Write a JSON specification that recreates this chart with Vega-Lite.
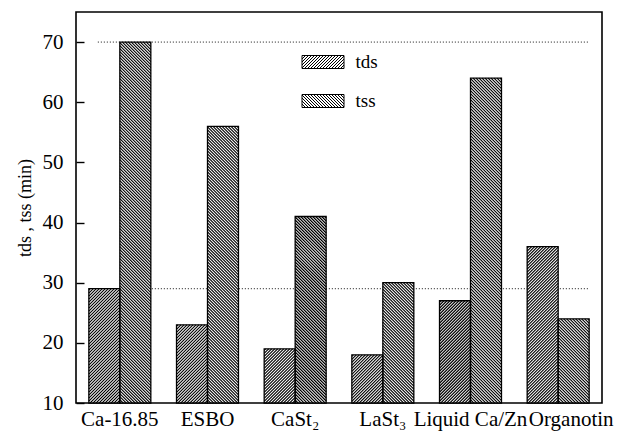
{
  "$schema": "https://vega.github.io/schema/vega-lite/v6.json",
  "width": 526,
  "height": 391,
  "autosize": "none",
  "padding": {"left": 76, "top": 12, "right": 16, "bottom": 32},
  "background": "white",
  "config": {
    "font": "Liberation Serif",
    "view": {"stroke": "black", "strokeWidth": 1.6},
    "axis": {"domain": false, "grid": false, "labelFont": "Liberation Serif", "labelFontSize": 21, "labelColor": "black", "titleFont": "Liberation Serif", "titleColor": "black", "titleFontWeight": "normal", "tickColor": "black"},
    "axisX": {"ticks": false, "labelPadding": 5, "labelAngle": 0},
    "axisY": {"ticks": true, "offset": -8, "tickSize": 8, "tickWidth": 1.4, "labelPadding": 13, "titleFontSize": 18, "titlePadding": 8},
    "legend": {"labelFont": "Liberation Serif"}
  },
  "datasets": {
    "bars": [
      {"cat": "Ca-16.85", "series": "tds", "value": 29},
      {"cat": "Ca-16.85", "series": "tss", "value": 70},
      {"cat": "ESBO", "series": "tds", "value": 23},
      {"cat": "ESBO", "series": "tss", "value": 56},
      {"cat": "CaSt₂", "series": "tds", "value": 19},
      {"cat": "CaSt₂", "series": "tss", "value": 41},
      {"cat": "LaSt₃", "series": "tds", "value": 18},
      {"cat": "LaSt₃", "series": "tss", "value": 30},
      {"cat": "Liquid Ca/Zn", "series": "tds", "value": 27},
      {"cat": "Liquid Ca/Zn", "series": "tss", "value": 64},
      {"cat": "Organotin", "series": "tds", "value": 36},
      {"cat": "Organotin", "series": "tss", "value": 24}
    ],
    "refs": [{"value": 70}, {"value": 29}]
  },
  "data": {"name": "bars"},
  "layer": [
    {
      "data": {"name": "refs"},
      "mark": {"type": "rule", "strokeDash": [1, 2], "strokeWidth": 1, "color": "#111"},
      "encoding": {
        "x": {"datum": "Ca-16.85", "type": "nominal", "bandPosition": 0.145,
              "scale": {"domain": ["Ca-16.85", "ESBO", "CaSt₂", "LaSt₃", "Liquid Ca/Zn", "Organotin"], "paddingInner": 0.293, "paddingOuter": 0.1465},
              "axis": {"title": null, "labelOverlap": false, "labelOffset": {"condition": {"test": "datum.value === 'Organotin'", "value": 13}, "value": 0}}},
        "x2": {"datum": "Organotin", "bandPosition": 0.98},
        "y": {"field": "value", "type": "quantitative", "scale": {"domain": [10, 75], "nice": false, "zero": false}, "title": "tds , tss (min)", "axis": {"values": [10, 20, 30, 40, 50, 60, 70], "ticks": true, "tickSize": 8, "offset": -8}}
      }
    },
    {
      "mark": {"type": "bar", "fill": "white", "strokeWidth": 0},
      "encoding": {
        "x": {"field": "cat", "type": "nominal",
              "scale": {"domain": ["Ca-16.85", "ESBO", "CaSt₂", "LaSt₃", "Liquid Ca/Zn", "Organotin"], "paddingInner": 0.293, "paddingOuter": 0.1465},
              "axis": {"title": null, "labelOverlap": false, "labelOffset": {"condition": {"test": "datum.value === 'Organotin'", "value": 13}, "value": 0}}},
        "xOffset": {"field": "series", "type": "nominal", "scale": {"domain": ["tds", "tss"], "paddingInner": 0, "paddingOuter": 0}},
        "y": {"field": "value", "type": "quantitative", "scale": {"domain": [10, 75], "nice": false, "zero": false}, "title": "tds , tss (min)", "axis": {"values": [10, 20, 30, 40, 50, 60, 70], "ticks": true, "tickSize": 8, "offset": -8}},
        "y2": {"datum": 10}
      }
    },
    {
      "mark": {"type": "point", "size": 4, "filled": false, "stroke": "black", "strokeWidth": 1.15, "opacity": 1, "clip": true},
      "encoding": {
        "x": {"field": "cat", "type": "nominal",
              "scale": {"domain": ["Ca-16.85", "ESBO", "CaSt₂", "LaSt₃", "Liquid Ca/Zn", "Organotin"], "paddingInner": 0.293, "paddingOuter": 0.1465},
              "axis": {"title": null, "labelOverlap": false, "labelOffset": {"condition": {"test": "datum.value === 'Organotin'", "value": 13}, "value": 0}}},
        "xOffset": {"field": "series", "type": "nominal", "scale": {"domain": ["tds", "tss"], "paddingInner": 0, "paddingOuter": 0}},
        "y": {"field": "value", "type": "quantitative", "scale": {"domain": [10, 75], "nice": false, "zero": false}, "title": "tds , tss (min)", "axis": {"values": [10, 20, 30, 40, 50, 60, 70], "ticks": true, "tickSize": 8, "offset": -8}},
        "shape": {
          "condition": {"test": "datum.series === 'tds'", "value": "M-15.5,1.5l1.5,-1.5M-15.5,4.5l4.5,-4.5M-15.5,7.5l7.5,-7.5M-15.5,10.5l10.5,-10.5M-15.5,13.5l13.5,-13.5M-15.5,16.5l16.5,-16.5M-15.5,19.5l19.5,-19.5M-15.5,22.5l22.5,-22.5M-15.5,25.5l25.5,-25.5M-15.5,28.5l28.5,-28.5M-15.5,31.5l31,-31m-31,34l31,-31m-31,34l31,-31m-31,34l31,-31m-31,34l31,-31m-31,34l31,-31m-31,34l31,-31m-31,34l31,-31m-31,34l31,-31m-31,34l31,-31m-31,34l31,-31m-31,34l31,-31m-31,34l31,-31m-31,34l31,-31m-31,34l31,-31m-31,34l31,-31m-31,34l31,-31m-31,34l31,-31m-31,34l31,-31m-31,34l31,-31m-31,34l31,-31m-31,34l31,-31m-31,34l31,-31m-31,34l31,-31m-31,34l31,-31m-31,34l31,-31m-31,34l31,-31m-31,34l31,-31m-31,34l31,-31m-31,34l31,-31m-31,34l31,-31m-31,34l31,-31m-31,34l31,-31m-31,34l31,-31m-31,34l31,-31m-31,34l31,-31m-31,34l31,-31m-31,34l31,-31m-31,34l31,-31m-31,34l31,-31m-31,34l31,-31m-31,34l31,-31m-31,34l31,-31m-31,34l31,-31m-31,34l31,-31m-31,34l31,-31m-31,34l31,-31m-31,34l31,-31m-31,34l31,-31m-31,34l31,-31m-31,34l31,-31m-31,34l31,-31m-31,34l31,-31m-31,34l31,-31m-31,34l31,-31m-31,34l31,-31m-31,34l31,-31m-31,34l31,-31m-31,34l31,-31m-31,34l31,-31m-31,34l31,-31m-31,34l31,-31m-31,34l31,-31m-31,34l31,-31m-31,34l31,-31m-31,34l31,-31m-31,34l31,-31m-31,34l31,-31m-31,34l31,-31m-31,34l31,-31m-31,34l31,-31m-31,34l31,-31m-31,34l31,-31m-31,34l31,-31m-31,34l31,-31m-31,34l31,-31"},
          "value": "M14,0l1.5,1.5M11,0l4.5,4.5M8,0l7.5,7.5M5,0l10.5,10.5M2,0l13.5,13.5M-1,0l16.5,16.5M-4,0l19.5,19.5M-7,0l22.5,22.5M-10,0l25.5,25.5M-13,0l28.5,28.5M-15.5,0.5l31,31m-31,-28l31,31m-31,-28l31,31m-31,-28l31,31m-31,-28l31,31m-31,-28l31,31m-31,-28l31,31m-31,-28l31,31m-31,-28l31,31m-31,-28l31,31m-31,-28l31,31m-31,-28l31,31m-31,-28l31,31m-31,-28l31,31m-31,-28l31,31m-31,-28l31,31m-31,-28l31,31m-31,-28l31,31m-31,-28l31,31m-31,-28l31,31m-31,-28l31,31m-31,-28l31,31m-31,-28l31,31m-31,-28l31,31m-31,-28l31,31m-31,-28l31,31m-31,-28l31,31m-31,-28l31,31m-31,-28l31,31m-31,-28l31,31m-31,-28l31,31m-31,-28l31,31m-31,-28l31,31m-31,-28l31,31m-31,-28l31,31m-31,-28l31,31m-31,-28l31,31m-31,-28l31,31m-31,-28l31,31m-31,-28l31,31m-31,-28l31,31m-31,-28l31,31m-31,-28l31,31m-31,-28l31,31m-31,-28l31,31m-31,-28l31,31m-31,-28l31,31m-31,-28l31,31m-31,-28l31,31m-31,-28l31,31m-31,-28l31,31m-31,-28l31,31m-31,-28l31,31m-31,-28l31,31m-31,-28l31,31m-31,-28l31,31m-31,-28l31,31m-31,-28l31,31m-31,-28l31,31m-31,-28l31,31m-31,-28l31,31m-31,-28l31,31m-31,-28l31,31m-31,-28l31,31m-31,-28l31,31m-31,-28l31,31m-31,-28l31,31m-31,-28l31,31m-31,-28l31,31m-31,-28l31,31m-31,-28l31,31m-31,-28l31,31m-31,-28l31,31m-31,-28l31,31m-31,-28l31,31m-31,-28l31,31m-31,-28l31,31m-31,-28l31,31m-31,-28l31,31m-31,-28l31,31m-31,-28l31,31m-31,-28l31,31m-31,-28l31,31m-31,-28l31,31m-31,-28l31,31m-31,-28l31,31m-31,-28l31,31m-31,-28l31,31m-31,-28l31,31m-31,-28l31,31m-31,-28l31,31m-31,-28l31,31m-31,-28l31,31m-31,-28l31,31m-31,-28l31,31m-31,-28l31,31m-31,-28l31,31m-31,-28l31,31m-31,-28l31,31m-31,-28l31,31m-31,-28l31,31m-31,-28l31,31m-31,-28l31,31m-31,-28l31,31m-31,-28l31,31m-31,-28l31,31m-31,-28l31,31m-31,-28l31,31m-31,-28l31,31m-31,-28l31,31m-31,-28l31,31m-31,-28l31,31m-31,-28l31,31m-31,-28l31,31m-31,-28l31,31m-31,-28l31,31m-31,-28l31,31m-31,-28l31,31m-31,-28l31,31m-31,-28l31,31m-31,-28l31,31m-31,-28l31,31m-31,-28l31,31m-31,-28l31,31m-31,-28l31,31m-31,-28l31,31m-31,-28l31,31m-31,-28l31,31m-31,-28l31,31m-31,-28l31,31m-31,-28l31,31m-31,-28l31,31m-31,-28l31,31m-31,-28l31,31m-31,-28l31,31m-31,-28l31,31m-31,-28l31,31m-31,-28l31,31m-31,-28l31,31m-31,-28l31,31m-31,-28l31,31m-31,-28l31,31"
        }
      }
    },
    {
      "mark": {"type": "bar", "fill": "white", "fillOpacity": 0, "stroke": "black", "strokeWidth": 1.3},
      "encoding": {
        "x": {"field": "cat", "type": "nominal",
              "scale": {"domain": ["Ca-16.85", "ESBO", "CaSt₂", "LaSt₃", "Liquid Ca/Zn", "Organotin"], "paddingInner": 0.293, "paddingOuter": 0.1465},
              "axis": {"title": null, "labelOverlap": false, "labelOffset": {"condition": {"test": "datum.value === 'Organotin'", "value": 13}, "value": 0}}},
        "xOffset": {"field": "series", "type": "nominal", "scale": {"domain": ["tds", "tss"], "paddingInner": 0, "paddingOuter": 0}},
        "y": {"field": "value", "type": "quantitative", "scale": {"domain": [10, 75], "nice": false, "zero": false}, "title": "tds , tss (min)", "axis": {"values": [10, 20, 30, 40, 50, 60, 70], "ticks": true, "tickSize": 8, "offset": -8}},
        "y2": {"datum": 10}
      }
    },
    {
      "mark": {"type": "point", "size": 4, "filled": false, "stroke": "black", "strokeWidth": 1, "opacity": 0},
      "encoding": {
        "x": {"field": "cat", "type": "nominal",
              "scale": {"domain": ["Ca-16.85", "ESBO", "CaSt₂", "LaSt₃", "Liquid Ca/Zn", "Organotin"], "paddingInner": 0.293, "paddingOuter": 0.1465},
              "axis": {"title": null, "labelOverlap": false, "labelOffset": {"condition": {"test": "datum.value === 'Organotin'", "value": 13}, "value": 0}}},
        "xOffset": {"field": "series", "type": "nominal", "scale": {"domain": ["tds", "tss"], "paddingInner": 0, "paddingOuter": 0}},
        "y": {"field": "value", "type": "quantitative", "scale": {"domain": [10, 75], "nice": false, "zero": false}, "title": "tds , tss (min)", "axis": {"values": [10, 20, 30, 40, 50, 60, 70], "ticks": true, "tickSize": 8, "offset": -8}},
        "shape": {"field": "series", "type": "nominal",
          "scale": {"domain": ["tds", "tss"], "range": [
            "M-21,-6.5H21V6.5H-21ZM-21,-6l0.5,-0.5M-21,-3l3.5,-3.5M-21,0l6.5,-6.5M-21,3l9.5,-9.5M-21,6l12.5,-12.5M-18.5,6.5l13,-13M-15.5,6.5l13,-13M-12.5,6.5l13,-13M-9.5,6.5l13,-13M-6.5,6.5l13,-13M-3.5,6.5l13,-13M-0.5,6.5l13,-13M2.5,6.5l13,-13M5.5,6.5l13,-13M8.5,6.5l12.5,-12.5M11.5,6.5l9.5,-9.5M14.5,6.5l6.5,-6.5M17.5,6.5l3.5,-3.5M20.5,6.5l0.5,-0.5",
            "M-21,-6.5H21V6.5H-21ZM21,-6l-0.5,-0.5M21,-3l-3.5,-3.5M21,0l-6.5,-6.5M21,3l-9.5,-9.5M21,6l-12.5,-12.5M18.5,6.5l-13,-13M15.5,6.5l-13,-13M12.5,6.5l-13,-13M9.5,6.5l-13,-13M6.5,6.5l-13,-13M3.5,6.5l-13,-13M0.5,6.5l-13,-13M-2.5,6.5l-13,-13M-5.5,6.5l-13,-13M-8.5,6.5l-12.5,-12.5M-11.5,6.5l-9.5,-9.5M-14.5,6.5l-6.5,-6.5M-17.5,6.5l-3.5,-3.5M-20.5,6.5l-0.5,-0.5"
          ]},
          "legend": {
            "orient": "none", "legendX": 237.5, "legendY": 40.5, "title": null, "padding": 0,
            "symbolSize": 4, "symbolOpacity": 1, "symbolStrokeWidth": 1, "symbolStrokeColor": "black", "symbolFillColor": "white",
            "labelFont": "Liberation Serif", "labelFontSize": 19, "labelColor": "black", "labelOffset": 23,
            "rowPadding": 19
          }
        }
      }
    }
  ]
}
